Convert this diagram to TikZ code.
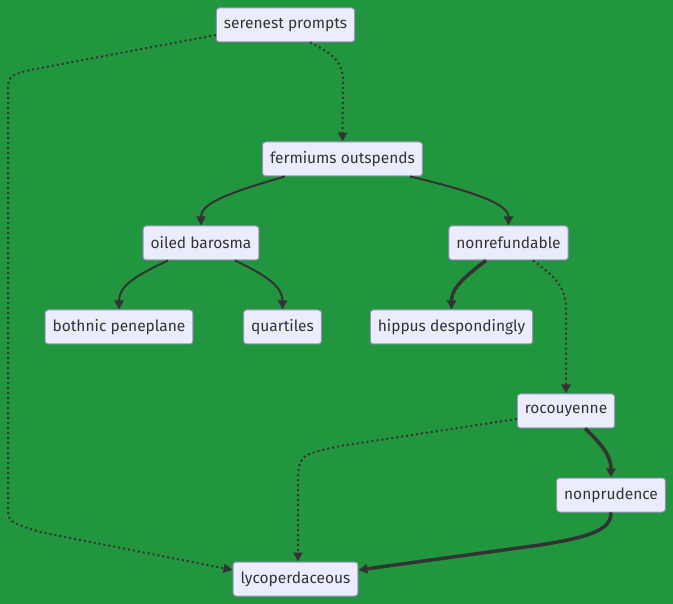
\documentclass[tikz,border=0pt]{standalone}
\usepackage{fontspec}
\setmainfont{Fira Sans}
\usetikzlibrary{arrows.meta,calc}
\definecolor{bg}{HTML}{22963F}
\definecolor{nodefill}{HTML}{ECECFF}
\definecolor{nodeborder}{HTML}{9A8FC4}
\definecolor{edge}{HTML}{333333}
\definecolor{txt}{HTML}{333333}
\tikzset{
  box/.style={draw=nodeborder, fill=nodefill, rounded corners=3pt, line width=1pt,
    minimum height=34pt, inner xsep=7.5pt, inner ysep=0pt, text=txt, font=\fontsize{15.5}{18}\selectfont},
  link/.style={draw=edge, line width=2pt, -{Triangle[length=9pt,width=9pt]}},
  thicklink/.style={draw=edge, line width=3.5pt, -{Triangle[length=9pt,width=9pt]}},
  dotlink/.style={draw=edge, line width=2pt, dash pattern=on 2pt off 3pt, -{Triangle[length=9pt,width=9pt]}},
}
\begin{document}
\begin{tikzpicture}[x=1pt,y=-1pt]
\fill[bg] (0,0) rectangle (673,604);
\useasboundingbox (0,0) rectangle (673,604);
\node[box] (sp) at (285.5,25) {serenest prompts};
\node[box] (fo) at (342.5,159) {fermiums outspends};
\node[box] (ob) at (201,243) {oiled barosma};
\node[box] (nr) at (508.5,243) {nonrefundable};
\node[box] (bp) at (119,327) {bothnic peneplane};
\node[box] (qu) at (282.5,327) {quartiles};
\node[box] (hd) at (451.5,327) {hippus despondingly};
\node[box] (ro) at (566,411) {rocouyenne};
\node[box] (np) at (611,495) {nonprudence};
\node[box] (ly) at (295.5,579) {lycoperdaceous};

\draw[dotlink] ($(sp.south)+(24.5,0)$) .. controls (336,55) and (343,64) .. (343,82) -- (fo.north);
\draw[dotlink] ($(sp.west)+(0,10)$) -- (30,70) .. controls (8,76) .. (8,95) -- (8,505)
   .. controls (8,522) .. (40,532) -- ($(ly.west)+(0,-9)$);
\draw[link] ($(fo.south)+(-57.5,0)$) .. controls (220,195) and (201,205) .. (ob.north);
\draw[link] ($(fo.south)+(67.5,0)$) .. controls (480,193) and (508.5,205) .. (nr.north);
\draw[link] ($(ob.south)+(-33,0)$) .. controls (130,278) and (119,288) .. (bp.north);
\draw[link] ($(ob.south)+(34,0)$) .. controls (270,277) and (282.5,288) .. (qu.north);
\draw[thicklink] ($(nr.south)+(-22.5,0)$) .. controls (460,280) and (451.5,290) .. (hd.north);
\draw[dotlink] ($(nr.south)+(24.5,0)$) .. controls (560,280) and (566,290) .. (566,312) -- (ro.north);
\draw[thicklink] ($(ro.south)+(19,0)$) .. controls (605,447) and (611,458) .. (np.north);
\draw[dotlink] ($(ro.west)+(0,8)$) -- (340,446) .. controls (298,455) .. (298,490) -- ($(ly.north)+(2.5,0)$);
\draw[thicklink] (np.south) .. controls (611,530) and (590,537) .. (540,545) -- ($(ly.east)+(0,-9)$);
\end{tikzpicture}
\end{document}
